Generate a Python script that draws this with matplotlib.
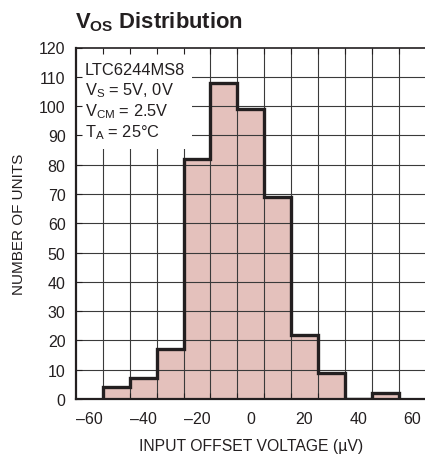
import matplotlib
matplotlib.use('Agg')
import matplotlib.pyplot as plt
from matplotlib.patches import Rectangle

# Histogram data: 10uV bins centred on -50 ... 50
bin_edges = [-55, -45, -35, -25, -15, -5, 5, 15, 25, 35, 45, 55]
unit_counts = [4, 7, 17, 82, 108, 99, 69, 22, 9, 0, 2]
x_ticks = [-60, -40, -20, 0, 20, 40, 60]
y_ticks = list(range(0, 121, 10))
notes = ['LTC6244MS8',
         r'$\mathregular{V_S}$ = 5V, 0V',
         r'$\mathregular{V_{CM}}$ = 2.5V',
         r'$\mathregular{T_A}$ = 25°C']

FONT = ['Liberation Sans', 'DejaVu Sans']
INK = '#231f20'

plt.rcParams['font.family'] = FONT
plt.rcParams['mathtext.default'] = 'regular'
plt.rcParams['axes.unicode_minus'] = True

fig = plt.figure(figsize=(4.25, 4.6), dpi=100)
ax = fig.add_axes([76 / 425, 60 / 460, 349.5 / 425, 351.5 / 460])
ax.set_xlim(-65, 65)
ax.set_ylim(0, 120)

# bars, grid on top, then the thick outline
ax.stairs(unit_counts, bin_edges, fill=True, color='#e4c1bc', lw=0, zorder=1)
ax.vlines(bin_edges, 0, 120, color='#3a3a3a', lw=0.8, zorder=2)
ax.hlines(y_ticks[1:-1], -65, 65, color='#3a3a3a', lw=0.8, zorder=2)
ax.stairs(unit_counts, bin_edges, fill=False, baseline=0, color=INK, lw=2.4, zorder=2.6)

# white label box in the top left corner
ax.add_patch(Rectangle((0, 0.711), 0.332, 0.289, transform=ax.transAxes,
                       facecolor='white', edgecolor='none', zorder=3))
for i, line in enumerate(notes):
    ax.text(0.026, 0.9246 - i * 0.0589, line, transform=ax.transAxes,
            fontsize=11.8, color=INK, va='baseline', ha='left', zorder=4)

# ticks
ax.set_xticks(x_ticks)
ax.set_xticklabels([str(t).replace('-', '\u2013') for t in x_ticks])
ax.set_xticks(bin_edges, minor=True)
ax.set_yticks(y_ticks)
ax.tick_params(axis='x', which='major', length=0, pad=9, labelsize=11.5, labelcolor=INK)
ax.tick_params(axis='x', which='minor', direction='in', length=4, width=0.8,
               top=True, color=INK)
ax.tick_params(axis='y', direction='in', length=4, width=0.8, pad=7.5,
               labelsize=11.5, labelcolor=INK, color=INK)
ax.xaxis.set_zorder(5)
ax.yaxis.set_zorder(5)

for side in ['left', 'bottom', 'top']:
    ax.spines[side].set_color(INK)
    ax.spines[side].set_zorder(6)
ax.spines['left'].set_linewidth(1.6)
ax.spines['bottom'].set_linewidth(1.6)
ax.spines['top'].set_linewidth(1.2)
ax.spines['right'].set_visible(False)

ax.set_xlabel('INPUT OFFSET VOLTAGE (µV)', fontsize=11.3, color=INK, labelpad=8)
ax.set_ylabel('NUMBER OF UNITS', fontsize=11, color=INK, labelpad=9)

fig.text(75 / 425, 1 - 28 / 460, r'$\mathregular{V_{OS}}$ Distribution',
         fontsize=15.8, fontweight='bold', color=INK, va='baseline', ha='left')

fig.savefig('out.png', dpi=100)
